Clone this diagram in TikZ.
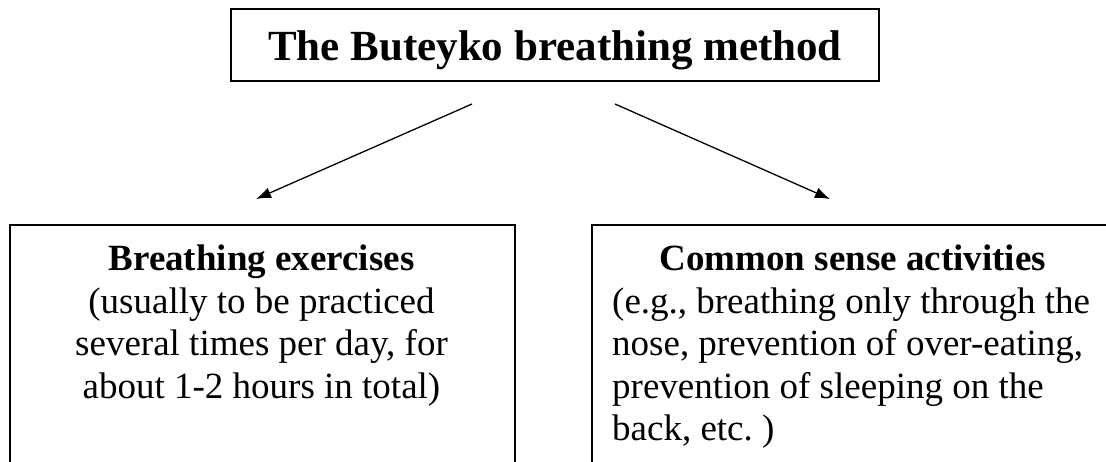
\documentclass[tikz,border=0pt]{standalone}
\usepackage{fontspec}
\setmainfont{Liberation Serif}
\usetikzlibrary{arrows.meta}

\tikzset{
    box/.style={draw, rectangle, line width=1.6pt, inner sep=0pt},
    bodytext/.style={inner sep=0pt, font=\fontsize{37}{42.5}\selectfont},
}

\begin{document}
\begin{tikzpicture}[>={Latex[length=15pt,width=11pt]}, x=1pt, y=-1pt]
    \useasboundingbox (0,0) rectangle (1106,461);
    \clip (0,0) rectangle (1106,461);

    % Khung tiêu đề
    \node[box, minimum width=648pt, minimum height=72pt, text height=30pt, text depth=0pt,
        font=\fontsize{43}{50}\selectfont\bfseries] (method) at (555,45) {The Buteyko breathing method};

    % Hai khung dưới (bị cắt ở mép trang)
    \node[box, anchor=north west, minimum width=505pt, minimum height=300pt] (exercises) at (9,224) {};
    \node[box, anchor=north west, minimum width=600pt, minimum height=300pt] (activities) at (591,224) {};

    % Nội dung
    \node[bodytext, anchor=north, align=center] (exercisestext) at (261.5,245)
        {\textbf{Breathing exercises}\\(usually to be practiced\\several times per day, for\\about 1-2 hours in total)};
    \node[bodytext, anchor=north west, align=left] (activitiestext) at (612,245)
        {\makebox[481pt]{\textbf{Common sense activities}}\\(e.g., breathing only through the\\nose, prevention of over-eating,\\prevention of sleeping on the\\back, etc.\ )};

    % Mũi tên
    \coordinate (leftstart) at (472,104);
    \coordinate (leftend) at (256,199);
    \coordinate (rightstart) at (615,104);
    \coordinate (rightend) at (830,199);
    \draw[->, line width=1.3pt] (leftstart) -- (leftend);
    \draw[->, line width=1.3pt] (rightstart) -- (rightend);
\end{tikzpicture}
\end{document}
